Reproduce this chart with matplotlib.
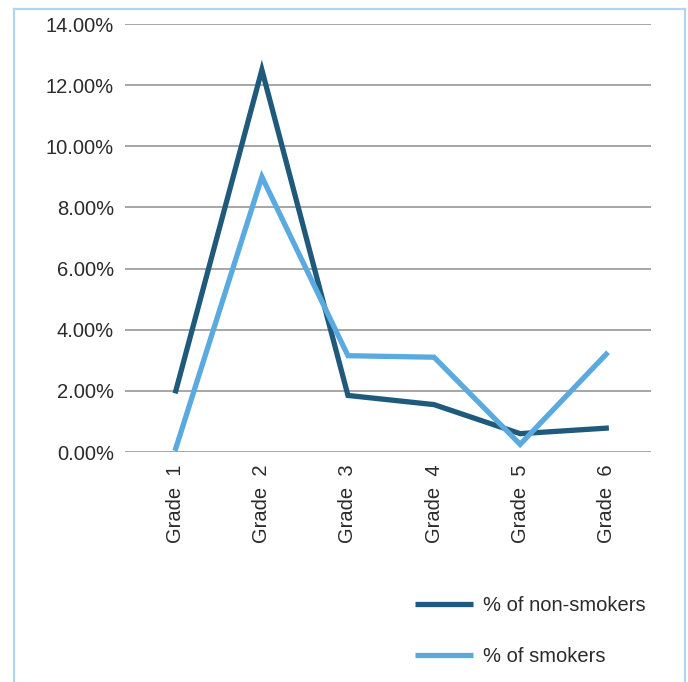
import matplotlib
matplotlib.use("Agg")
import matplotlib.pyplot as plt
from matplotlib.lines import Line2D
from matplotlib.ticker import FuncFormatter

grades = ["Grade  1", "Grade  2", "Grade  3", "Grade  4", "Grade  5", "Grade  6"]
non_smokers = [2.0, 12.5, 1.85, 1.55, 0.6, 0.78]
smokers = [0.12, 9.0, 3.15, 3.1, 0.25, 3.2]
y_ticks = [0, 2, 4, 6, 8, 10, 12, 14]

dark = "#1f5a7c"
light = "#5aaae0"
text_c = "#2b2b2b"
plt.rcParams["font.family"] = ["Liberation Sans", "DejaVu Sans"]

W, H = 688, 682
fig = plt.figure(figsize=(W / 100, H / 100), dpi=100)

# axes box in pixel terms
left, right, top, bottom = 125, 651, 24, 452
ax = fig.add_axes([left / W, 1 - bottom / H, (right - left) / W, (bottom - top) / H])

x = list(range(len(grades)))
ax.plot(x, non_smokers, color=dark, lw=3.8, solid_joinstyle="miter", label="% of non-smokers", zorder=3)
ax.plot(x, smokers, color=light, lw=3.8, solid_joinstyle="miter", label="% of smokers", zorder=3)

ax.set_xlim(-0.59, len(grades) - 1 + 0.52)
ax.set_ylim(0, 14)
ax.set_yticks(y_ticks)
ax.yaxis.set_major_formatter(FuncFormatter(lambda v, p: f"{v:.2f}%"))
ax.grid(axis="y", color="#a6a6a6", lw=1.4)
ax.set_axisbelow(True)
for s in ax.spines.values():
    s.set_visible(False)
ax.tick_params(axis="y", length=0, pad=8, labelsize=14.5, labelcolor=text_c)
ax.set_xticks(x)
ax.set_xticklabels(grades, rotation=90, fontsize=14.5, color=text_c)
ax.tick_params(axis="x", length=0, pad=9)

# legend entries
fig.legend(handles=[Line2D([], [], color=dark, lw=3.8, solid_capstyle="butt"),
                    Line2D([], [], color=light, lw=3.8, solid_capstyle="butt")],
           labels=["% of non-smokers", "% of smokers"],
           loc="upper left", bbox_to_anchor=(397 / W, 1 - 578 / H),
           frameon=False, fontsize=14.5, labelcolor=text_c,
           handlelength=2.85, handletextpad=0.5, labelspacing=1.6)

# light blue frame around the figure (open at the bottom)
fc = "#b3d5ef"
fx0, fx1, fy0 = 14 / W, 685 / W, 1 - 9 / H
fig.add_artist(Line2D([fx0, fx0], [0, fy0], color=fc, lw=1.6, transform=fig.transFigure))
fig.add_artist(Line2D([fx1, fx1], [0, fy0], color=fc, lw=1.6, transform=fig.transFigure))
fig.add_artist(Line2D([fx0, fx1], [fy0, fy0], color=fc, lw=1.6, transform=fig.transFigure))

fig.savefig("out.png", dpi=100)
